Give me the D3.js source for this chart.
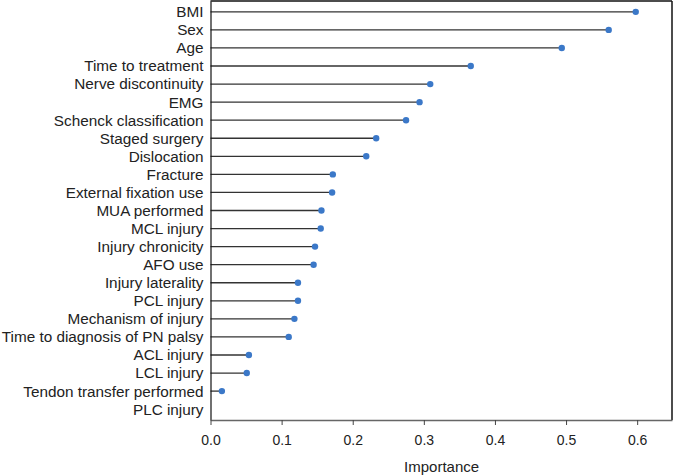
<!DOCTYPE html>
<html>
<head>
<meta charset="utf-8">
<script src="https://cdn.jsdelivr.net/npm/d3@7"></script>
<style>
  html, body { margin: 0; padding: 0; background: #fff; overflow: hidden; }
  svg { display: block; }
  text { font-family: "Liberation Sans", Arial, sans-serif; fill: #222; }
</style>
</head>
<body>
<div id="chart"></div>
<script>
const features = ["BMI", "Sex", "Age", "Time to treatment", "Nerve discontinuity", "EMG",
    "Schenck classification", "Staged surgery", "Dislocation", "Fracture", "External fixation use",
    "MUA performed", "MCL injury", "Injury chronicity", "AFO use", "Injury laterality", "PCL injury",
    "Mechanism of injury", "Time to diagnosis of PN palsy", "ACL injury", "LCL injury",
    "Tendon transfer performed", "PLC injury"];
const importance = [0.598, 0.560, 0.494, 0.366, 0.309, 0.294, 0.275, 0.233, 0.219, 0.172, 0.171,
    0.156, 0.155, 0.147, 0.145, 0.123, 0.123, 0.118, 0.110, 0.054, 0.051, 0.016, 0];
const xTicks = [0, 0.1, 0.2, 0.3, 0.4, 0.5, 0.6];

const W = 674, H = 475;
const margin = { top: 1, right: 2, bottom: 55, left: 210.5 };
const width = W - margin.left - margin.right;
const height = H - margin.top - margin.bottom;

const svg = d3.select("#chart").append("svg")
    .attr("width", W)
    .attr("height", H);

const g = svg.append("g")
    .attr("transform", `translate(${margin.left},${margin.top})`);

const x = d3.scaleLinear().domain([0, 0.649]).range([0, width]);
const y = d3.scalePoint().domain(features).range([0, height]).padding(0.6);

const data = features.map((f, i) => ({ name: f, value: importance[i] }));

// frame (top and right)
g.append("line")
    .attr("x1", 0).attr("x2", width).attr("y1", 0).attr("y2", 0)
    .attr("stroke", "#111").attr("stroke-width", 1.5);
g.append("line")
    .attr("x1", width).attr("x2", width).attr("y1", 0).attr("y2", height)
    .attr("stroke", "#111").attr("stroke-width", 1.5);

g.selectAll(".stem")
    .data(data)
    .enter()
    .append("line")
    .attr("class", "stem")
    .attr("x1", 0)
    .attr("x2", d => x(d.value))
    .attr("y1", d => y(d.name))
    .attr("y2", d => y(d.name))
    .attr("stroke", "#333")
    .attr("stroke-width", 1.3);

g.selectAll(".dot")
    .data(data.filter(d => d.value > 0))
    .enter()
    .append("circle")
    .attr("class", "dot")
    .attr("cx", d => x(d.value))
    .attr("cy", d => y(d.name))
    .attr("r", 3.2)
    .attr("fill", "#3b78c8");

// y axis
const yAxis = g.append("g")
    .call(d3.axisLeft(y).tickSize(0).tickPadding(7));
yAxis.select(".domain").attr("stroke", "#111").attr("stroke-width", 1.2);
yAxis.selectAll("text").style("font-size", "15.3px").attr("fill", "#222");

// x axis
const xAxis = g.append("g")
    .attr("transform", `translate(0,${height})`)
    .call(d3.axisBottom(x).tickValues(xTicks).tickFormat(d3.format(".1f")).tickSize(5).tickPadding(10).tickSizeOuter(0));
xAxis.select(".domain").attr("stroke", "#666").attr("stroke-width", 1.5);
xAxis.selectAll(".tick line").attr("stroke", "#444");
xAxis.selectAll("text").style("font-size", "14px").attr("fill", "#222");

svg.append("text")
    .attr("x", margin.left + x(0.325))
    .attr("y", 472)
    .attr("text-anchor", "middle")
    .style("font-size", "15px")
    .text("Importance");
</script>
</body>
</html>
